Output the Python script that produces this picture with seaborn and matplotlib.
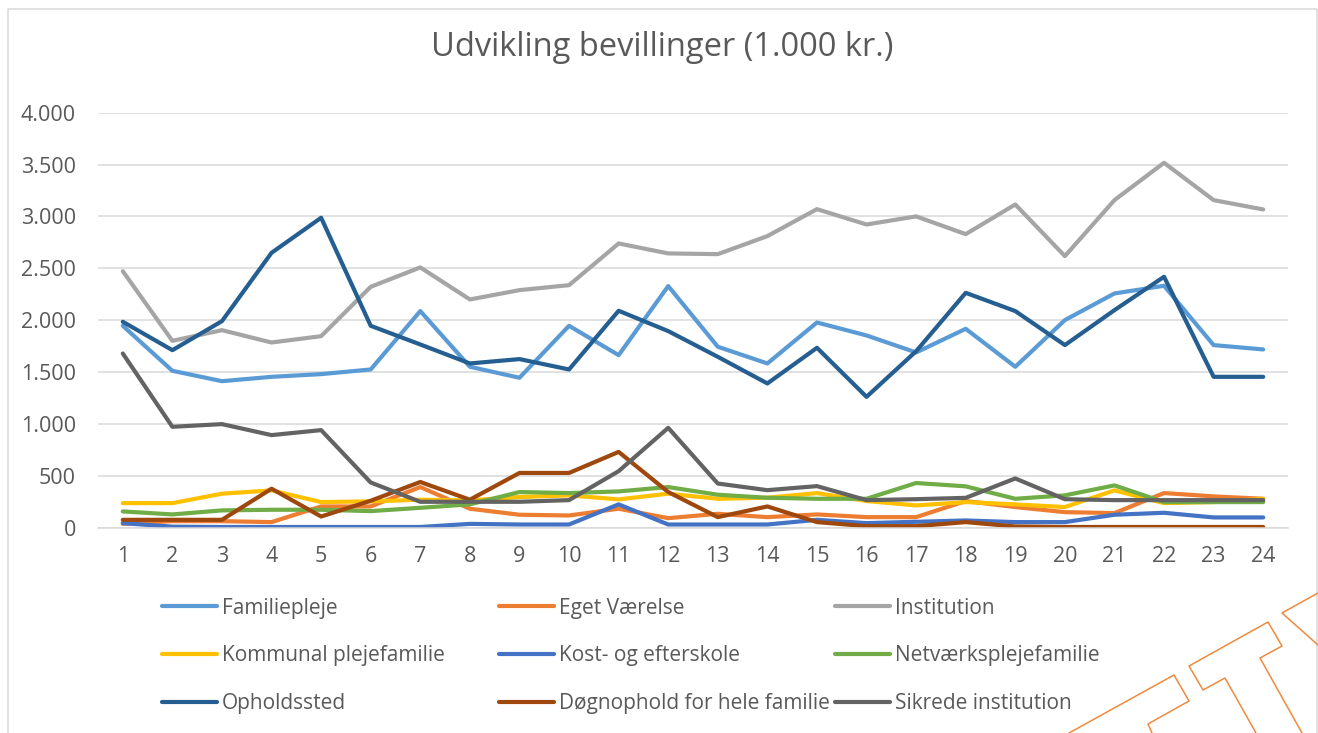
import numpy as np
import pandas as pd
import matplotlib.pyplot as plt
from matplotlib.lines import Line2D
from matplotlib.ticker import FuncFormatter, MultipleLocator
import seaborn as sns

# Data (1.000 kr.)
periods = list(range(1, 25))
familiepleje = [1945, 1511, 1411, 1453, 1479, 1524, 2087, 1550, 1444, 1945, 1662, 2328,
                1743, 1582, 1977, 1852, 1688, 1916, 1550, 2000, 2257, 2331, 1759, 1717]
eget_vaerelse = [35, 61, 61, 52, 203, 203, 390, 181, 123, 116, 181, 90,
                 132, 100, 126, 100, 100, 255, 197, 148, 139, 332, 300, 277]
institution = [2472, 1800, 1903, 1784, 1845, 2321, 2508, 2199, 2289, 2337, 2739, 2643,
               2636, 2810, 3070, 2922, 3000, 2829, 3115, 2617, 3157, 3517, 3157, 3067]
kommunal = [235, 235, 326, 358, 245, 252, 268, 261, 294, 310, 271, 326,
            277, 287, 332, 255, 213, 245, 223, 197, 358, 235, 245, 277]
kost_efterskole = [42, 8, 5, 5, 5, 5, 5, 35, 29, 29, 223, 29,
                   29, 29, 74, 42, 55, 68, 52, 52, 123, 142, 97, 97]
netvaerk = [155, 126, 165, 171, 171, 158, 190, 223, 342, 332, 348, 390,
            316, 287, 277, 277, 429, 397, 277, 310, 406, 245, 245, 245]
opholdssted = [1984, 1710, 1990, 2649, 2987, 1945, 1765, 1582, 1624, 1524, 2090, 1894,
               1646, 1389, 1733, 1260, 1700, 2263, 2087, 1759, 2096, 2418, 1453, 1453]
doegnophold = [74, 74, 74, 374, 106, 258, 439, 268, 526, 526, 729, 342,
               100, 203, 52, 13, 13, 52, 10, 5, 5, 5, 5, 5]
sikrede = [1678, 971, 997, 891, 939, 434, 248, 248, 248, 264, 543, 961,
           424, 360, 399, 264, 273, 286, 473, 273, 264, 264, 264, 264]

series_names = ["Familiepleje", "Eget Værelse", "Institution",
                "Kommunal plejefamilie", "Kost- og efterskole", "Netværksplejefamilie",
                "Opholdssted", "Døgnophold for hele familie", "Sikrede institution"]
series_values = [familiepleje, eget_vaerelse, institution,
                 kommunal, kost_efterskole, netvaerk,
                 opholdssted, doegnophold, sikrede]
colors = ["#5B9BD5", "#ED7D31", "#A5A5A5",
          "#FFC000", "#4472C4", "#70AD47",
          "#255E91", "#9E480E", "#636363"]

df = pd.concat([pd.DataFrame({"periode": periods, "beløb": vals, "serie": name})
                for name, vals in zip(series_names, series_values)], ignore_index=True)

sns.set_theme(style="white")
plt.rcParams["font.family"] = ["Open Sans", "DejaVu Sans"]
text_col = "#595959"

W, H = 1318, 733
fig = plt.figure(figsize=(W / 100, H / 100), dpi=100)
ax = fig.add_axes([98 / W, 1 - 527.5 / H, (1288 - 98) / W, (527.5 - 112.7) / H])

sns.lineplot(data=df, x="periode", y="beløb", hue="serie", hue_order=series_names,
             palette=colors, linewidth=3, legend=False, ax=ax,
             solid_capstyle="round")

ax.set_xlim(0.5, 24.5)
ax.set_ylim(0, 4000)
ax.set_xticks(periods)
ax.yaxis.set_major_locator(MultipleLocator(500))
ax.yaxis.set_major_formatter(FuncFormatter(lambda v, p: f"{v:,.0f}".replace(",", ".")))
ax.set_xlabel("")
ax.set_ylabel("")
ax.grid(axis="y", color="#D9D9D9", linewidth=1.1)
ax.set_axisbelow(True)
for side in ["top", "right", "left"]:
    ax.spines[side].set_visible(False)
ax.spines["bottom"].set_color("#D9D9D9")
ax.spines["bottom"].set_linewidth(1.1)
ax.tick_params(axis="y", length=0, pad=16, labelsize=15.5, labelcolor=text_col)
ax.tick_params(axis="x", length=0, pad=13, labelsize=15.5, labelcolor=text_col)

fig.text(662.5 / W, 1 - 47 / H, "Udvikling bevillinger (1.000 kr.)",
         ha="center", va="center", fontsize=23.5, color=text_col)

# Legend: three columns, read row by row
col_starts = [162, 499, 835]
for c in range(3):
    idx = [c, c + 3, c + 6]
    handles = [Line2D([0], [0], color=colors[i], lw=3, solid_capstyle="round") for i in idx]
    labels = [series_names[i] for i in idx]
    fig.legend(handles, labels, loc="center left",
               bbox_to_anchor=(col_starts[c] / W, 1 - 655.7 / H),
               frameon=False, borderpad=0, borderaxespad=0, fontsize=15,
               labelcolor=text_col, handlelength=2.65, handletextpad=0.22,
               labelspacing=1.28)

# chart area border
fig.add_artist(Line2D([7.8 / W, 7.8 / W, 1316.5 / W, 1316.5 / W],
                      [-0.01, 1 - 9.3 / H, 1 - 9.3 / H, -0.01],
                      transform=fig.transFigure, color="#D9D9D9", lw=1.1))

# orange logo outline in the lower right corner
logo_paths = [
    [(1069, 733), (1174, 675), (1189, 701), (1148, 724), (1152, 733)],
    [(1256, 733), (1225, 678), (1203, 690), (1189, 666), (1268, 622),
     (1282, 646), (1260, 658), (1302, 733)],
    [(1318, 593), (1282, 613), (1318, 645)],
]
for path in logo_paths:
    xs = [p[0] / W for p in path]
    ys = [1 - p[1] / H for p in path]
    fig.add_artist(Line2D(xs, ys, transform=fig.transFigure, color="#F08A3C", lw=1.1))

fig.savefig("out.png", dpi=100)
